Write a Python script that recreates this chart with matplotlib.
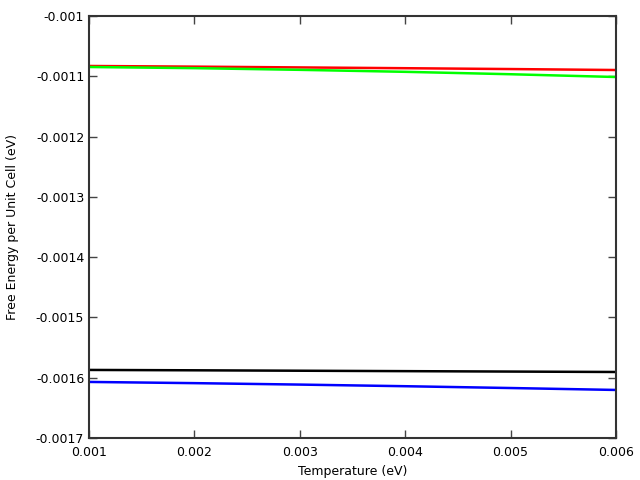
import numpy as np
import matplotlib.pyplot as plt
from matplotlib.ticker import FuncFormatter

temp = [0.001, 0.002, 0.003, 0.004, 0.005, 0.006]
f_red = [-0.0010829, -0.0010840, -0.0010853, -0.0010866, -0.0010880, -0.0010896]
f_green = [-0.0010846, -0.0010865, -0.0010893, -0.0010926, -0.0010966, -0.0011012]
f_black = [-0.0015871, -0.0015877, -0.0015884, -0.0015891, -0.0015898, -0.0015905]
f_blue = [-0.0016070, -0.0016090, -0.0016114, -0.0016141, -0.0016171, -0.0016203]

yticks = [-0.001, -0.0011, -0.0012, -0.0013, -0.0014, -0.0015, -0.0016, -0.0017]
xticks = [0.001, 0.002, 0.003, 0.004, 0.005, 0.006]

fig = plt.figure(figsize=(6.4, 4.8), dpi=100)
ax = fig.add_axes([89/640, 1-438/480, (616-89)/640, (438-16)/480])

ax.plot(temp, f_red, color='#ff0000', lw=1.8)
ax.plot(temp, f_green, color='#00ff00', lw=1.8)
ax.plot(temp, f_black, color='#000000', lw=1.8)
ax.plot(temp, f_blue, color='#0000ff', lw=1.8)

ax.set_xlim(0.001, 0.006)
ax.set_ylim(-0.0017, -0.001)
ax.set_xticks(xticks)
ax.set_yticks(yticks)
fmt = FuncFormatter(lambda v, p: ('%.4f' % v).rstrip('0'))
ax.xaxis.set_major_formatter(fmt)
ax.yaxis.set_major_formatter(fmt)
ax.tick_params(direction='in', length=6, width=1, colors='#444444', labelcolor='black',
               labelsize=9, top=True, right=True)
ax.tick_params(axis='x', pad=6)
for s in ax.spines.values():
    s.set_color('#333333')
    s.set_linewidth(1.5)

ax.set_xlabel('Temperature (eV)', fontsize=9)
ax.set_ylabel('Free Energy per Unit Cell (eV)', fontsize=9, va='center')
ax.yaxis.set_label_coords(-0.146, 0.5)

fig.savefig('out.png', dpi=100)
